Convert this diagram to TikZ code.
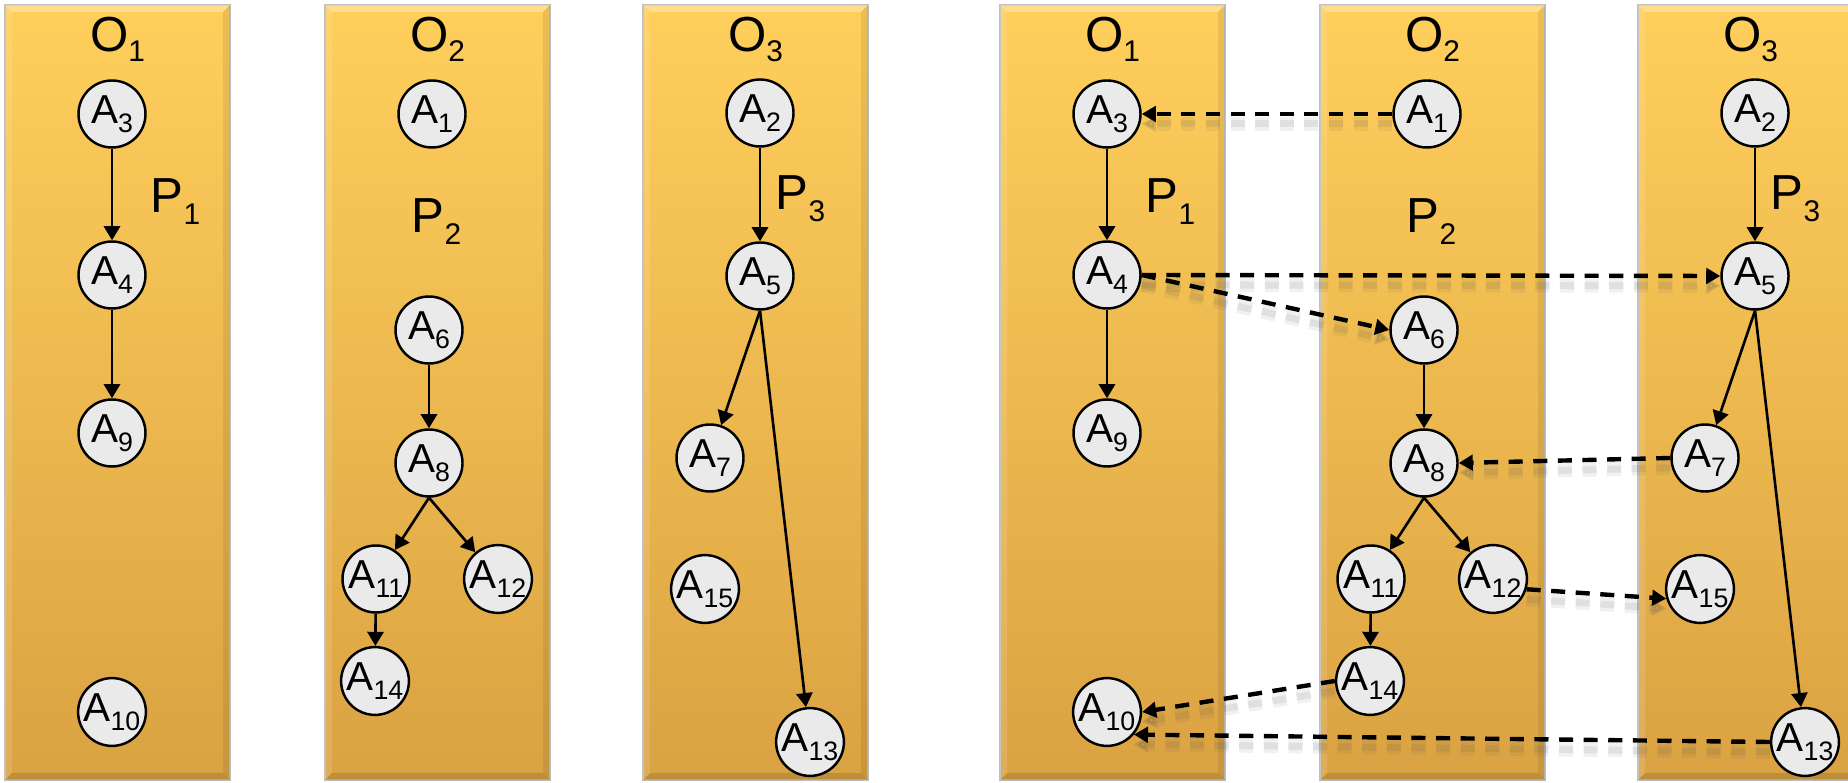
\documentclass[tikz,border=0pt]{standalone}
\usepackage{fontspec}
\setmainfont{Liberation Sans}
\usetikzlibrary{arrows.meta}

\definecolor{laneTop}{RGB}{255,207,92}
\definecolor{laneBot}{RGB}{218,162,66}
\definecolor{atomFill}{RGB}{234,234,234}

% lowered index, size given as optional argument
\newcommand{\lowidx}[2][7.6]{\raisebox{-2.7pt}{\fontsize{#1}{#1}\selectfont #2}}

\tikzset{
  lane/.style={top color=laneTop, bottom color=laneBot, draw=black!25, line width=0.5pt},
  atom/.style={circle, draw, fill=atomFill, line width=0.7pt, minimum size=0.67cm,
    inner sep=0pt, font=\fontsize{11.5}{13}\selectfont},
  lanelabel/.style={font=\fontsize{14}{16}\selectfont, anchor=base, inner sep=0pt},
  link/.style={-{Triangle[length=4pt,width=4.6pt]}, line width=0.75pt},
  move/.style={-{Triangle[length=4pt,width=4.4pt]}, line width=1.25pt,
    dash pattern=on 4pt off 3pt,
    preaction={draw=black!70, opacity=.08, line width=4pt, dash pattern=on 4pt off 3pt,
      transform canvas={yshift=-2.8pt}},
    preaction={draw=black!70, opacity=.1, line width=2pt, dash pattern=on 4pt off 3pt,
      transform canvas={yshift=-2.8pt}}},
}

\begin{document}
\begin{tikzpicture}

  \useasboundingbox (0,0) rectangle (18.48,-7.83);

  % the same three lanes twice: left as they are, right with the moves
  \foreach \g/\dx in {a/0,b/9.95} {
    \begin{scope}[xshift=\dx cm]

      % lanes with a slight bevel
      \foreach \x in {0.05,3.25,6.43} {
        \shade[lane] (\x,-0.05) rectangle ++(2.25,-7.75);
        \fill[white, opacity=.3] (\x,-0.05) -- ++(2.25,0) -- ++(-0.07,-0.07) -- ++(-2.11,0) -- cycle;
        \fill[white, opacity=.12] (\x,-0.05) -- ++(0.07,-0.07) -- ++(0,-7.61) -- ++(-0.07,-0.07) -- cycle;
        \fill[black, opacity=.08] (\x+2.25,-0.05) -- ++(-0.07,-0.07) -- ++(0,-7.61) -- ++(0.07,-0.07) -- cycle;
        \fill[black, opacity=.12] (\x,-7.80) -- ++(2.25,0) -- ++(-0.07,0.07) -- ++(-2.11,0) -- cycle;
      }

      % lane titles and path names
      \node[lanelabel] (\g o1) at (1.175,-0.52) {O\lowidx[8.5]{1}};
      \node[lanelabel] (\g o2) at (4.375,-0.52) {O\lowidx[8.5]{2}};
      \node[lanelabel] (\g o3) at (7.555,-0.52) {O\lowidx[8.5]{3}};
      \node[lanelabel, anchor=base west] (\g p1) at (1.50,-2.13) {P\raisebox{-0.7pt}{\lowidx[8.5]{1}}};
      \node[lanelabel, anchor=base west] (\g p2) at (4.11,-2.33) {P\raisebox{-0.7pt}{\lowidx[8.5]{2}}};
      \node[lanelabel, anchor=base west] (\g p3) at (7.75,-2.10) {P\raisebox{-0.7pt}{\lowidx[8.5]{3}}};

      % first lane
      \node[atom] (\g3) at (1.12,-1.14) {A\lowidx{3}};
      \node[atom] (\g4) at (1.12,-2.75) {A\lowidx{4}};
      \node[atom] (\g9) at (1.12,-4.33) {A\lowidx{9}};
      \node[atom] (\g10) at (1.12,-7.12) {A\lowidx{10}};

      % second lane
      \node[atom] (\g1) at (4.32,-1.14) {A\lowidx{1}};
      \node[atom] (\g6) at (4.29,-3.30) {A\lowidx{6}};
      \node[atom] (\g8) at (4.29,-4.63) {A\lowidx{8}};
      \node[atom] (\g11) at (3.76,-5.79) {A\lowidx{11}};
      \node[atom] (\g12) at (4.98,-5.79) {A\lowidx{12}};
      \node[atom] (\g14) at (3.75,-6.81) {A\lowidx{14}};

      % third lane
      \node[atom] (\g2) at (7.60,-1.13) {A\lowidx{2}};
      \node[atom] (\g5) at (7.60,-2.76) {A\lowidx{5}};
      \node[atom] (\g7) at (7.10,-4.58) {A\lowidx{7}};
      \node[atom] (\g15) at (7.05,-5.89) {A\lowidx{15}};
      \node[atom] (\g13) at (8.10,-7.42) {A\lowidx{13}};

      % steps inside each lane
      \draw[link] (\g3) -- (\g4);
      \draw[link] (\g4) -- (\g9);
      \draw[link] (\g6) -- (\g8);
      \draw[link] (\g8.south) -- (\g11);
      \draw[link] (\g8.south) -- (\g12);
      \draw[link] (\g11) -- (\g14);
      \draw[link] (\g2) -- (\g5);
      \draw[link] (\g5.south) -- (\g7);
      \draw[link] (\g5.south) -- (\g13);

    \end{scope}
  }

  % moves between the lanes
  \draw[move] (b1.west) -- (b3.east);
  \draw[move] (b4.east) -- (b5.west);
  \draw[move] (b4.east) -- (b6.west);
  \draw[move] (b7.west) -- (b8.east);
  \draw[move] (b12.-17) -- (b15.196);
  \draw[move] (b14.west) -- (b10.east);
  \draw[move] (b13.west) -- (b10.-40);

\end{tikzpicture}
\end{document}
